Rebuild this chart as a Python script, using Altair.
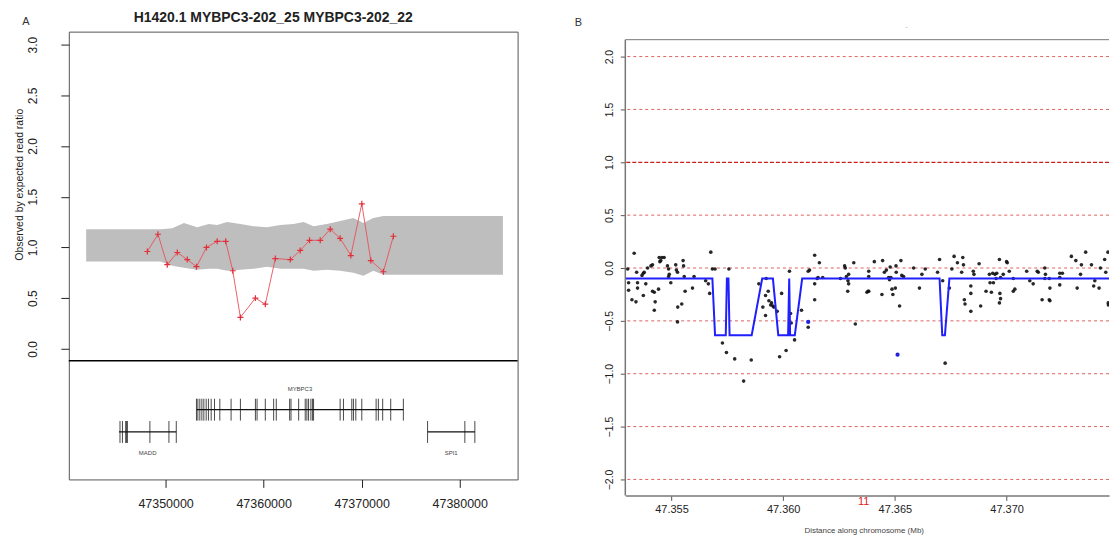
import altair as alt
import pandas as pd

FONT = "Liberation Sans"
INK = "#222222"

# ---------------- Panel A: observed / expected read ratio ----------------
ratio_pos = [47348140, 47349220, 47350170, 47351190, 47352210, 47353150, 47354170,
             47355260, 47356130, 47356850, 47357630, 47359160, 47360170, 47361190,
             47362720, 47363730, 47364680, 47365770, 47366790, 47367800, 47368890,
             47370010, 47370930, 47372210, 47373230]
ratio_val = [0.96, 1.13, 0.83, 0.95, 0.88, 0.81, 1.00, 1.06, 1.06, 0.77, 0.31,
             0.50, 0.44, 0.89, 0.88, 0.97, 1.07, 1.07, 1.18, 1.09, 0.92, 1.43,
             0.87, 0.76, 1.11]

# expected range (grey band)
band_pos = [47341900, 47349490, 47350680, 47351870, 47353220, 47354410, 47355260,
            47356270, 47357630, 47358980, 47360340, 47361700, 47363050, 47364070,
            47365090, 47366440, 47367800, 47369150, 47370170, 47371190, 47372200,
            47384400]
band_hi = [1.18, 1.18, 1.19, 1.24, 1.20, 1.23, 1.22, 1.25, 1.23, 1.21, 1.20,
           1.22, 1.23, 1.25, 1.21, 1.23, 1.26, 1.29, 1.24, 1.29, 1.31, 1.31]
band_lo = [0.86, 0.86, 0.82, 0.80, 0.78, 0.79, 0.79, 0.77, 0.78, 0.79, 0.81,
           0.79, 0.79, 0.79, 0.77, 0.78, 0.77, 0.75, 0.72, 0.77, 0.73, 0.73]

# gene models
mybpc3_exons = [47353150, 47353290, 47353490, 47353700, 47353900, 47354140, 47354370,
                47354650, 47354990, 47355530, 47356680, 47357630, 47359160, 47359330,
                47360170, 47361020, 47361290, 47362650, 47362790, 47363570, 47364240,
                47364410, 47364580, 47364820, 47364990, 47365090, 47367800, 47368140,
                47368990, 47369160, 47369400, 47370010, 47371470, 47371700, 47372140,
                47372960, 47374250]
madd_exons = [47345350, 47345600, 47345930, 47346030, 47346100, 47348400, 47350340, 47351090]
spi1_exons = [47376720, 47380520, 47381540]
gene_names = ["MYBPC3", "MADD", "SPI1"]
gene_start = [47353150, 47345250, 47376720]
gene_end = [47374250, 47351090, 47381540]
gene_row = [-0.60, -0.82, -0.82]        # track rows under the ratio plot
gene_label_y = [-0.40, -1.03, -1.03]
exon_half = 0.108
track_sep = -0.118

A_X_DOMAIN = [47340130, 47385900]
A_Y_DOMAIN = [-1.288, 3.128]

ratio_df = pd.DataFrame({"pos": ratio_pos, "val": ratio_val})
band_df = pd.DataFrame({"pos": band_pos, "val": band_hi, "val2": band_lo})
exon_rows = []
for name, exons, row in zip(gene_names, [mybpc3_exons, madd_exons, spi1_exons], gene_row):
    for e in exons:
        exon_rows.append({"pos": e, "val": row - exon_half, "val2": row + exon_half})
exon_df = pd.DataFrame(exon_rows)
gene_df = pd.DataFrame({
    "name": gene_names, "pos": gene_start, "pos2": gene_end, "val": gene_row,
    "label_y": gene_label_y,
    "mid": [(s + e) / 2 for s, e in zip(gene_start, gene_end)],
})

axis_ax = alt.Axis(values=[47350000, 47360000, 47370000, 47380000], format="d",
                   tickSize=8, labelPadding=10, labelFontSize=12.5, labelColor=INK,
                   tickColor=INK, domain=False, grid=False, title=None)
axis_ay = alt.Axis(values=[0, 0.5, 1.0, 1.5, 2.0, 2.5, 3.0], format=".1f",
                   labelAngle=270, labelAlign="center", labelBaseline="bottom",
                   labelPadding=21, tickSize=8, labelFontSize=12, labelColor=INK,
                   tickColor=INK, domain=False, grid=False,
                   title="Observed by expected read ratio", titleFontSize=10.5,
                   titleFontWeight="normal", titleColor=INK, titleAngle=270,
                   titleX=-49, titleY=153, titleAlign="center", titleBaseline="middle")


def ax(field):
    return alt.X(field, type="quantitative",
                 scale=alt.Scale(domain=A_X_DOMAIN, nice=False, zero=False), axis=axis_ax)


def ay(field):
    return alt.Y(field, type="quantitative",
                 scale=alt.Scale(domain=A_Y_DOMAIN, nice=False, zero=False), axis=axis_ay)


one = pd.DataFrame({"k": [0]})

band = alt.Chart(band_df).mark_area(color="#bebebe", opacity=1).encode(
    x=ax("pos"), y=ay("val"), y2="val2")
ratio_line = alt.Chart(ratio_df).mark_line(color="#e8505a", strokeWidth=0.9).encode(
    x=ax("pos"), y=ay("val"))
ratio_pts = alt.Chart(ratio_df).mark_point(
    shape="M-1,0H1M0,-1V1", filled=False, color="#e0303a", strokeWidth=1.2,
    size=36, opacity=1).encode(x=ax("pos"), y=ay("val"))
separator = alt.Chart(one).mark_rule(color="black", strokeWidth=1.6).encode(
    y=alt.datum(track_sep))
gene_lines = alt.Chart(gene_df).mark_rule(color="#111", strokeWidth=1.2).encode(
    x=ax("pos"), x2="pos2", y=ay("val"))
exon_ticks = alt.Chart(exon_df).mark_rule(color="#111", strokeWidth=0.9, opacity=0.85).encode(
    x=ax("pos"), y=ay("val"), y2="val2")
gene_text = alt.Chart(gene_df).mark_text(fontSize=6, color="#444").encode(
    x=ax("mid"), y=ay("label_y"), text="name:N")
title_a = alt.Chart(one).mark_text(
    text="H1420.1 MYBPC3-202_25 MYBPC3-202_22", fontSize=14, fontWeight="bold",
    color=INK, baseline="middle").encode(x=alt.value(205), y=alt.value(-14))
tag_a = alt.Chart(one).mark_text(text="A", fontSize=11, color="#333").encode(
    x=alt.value(-43), y=alt.value(-10))

panel_a = alt.layer(
    band, ratio_line, ratio_pts, separator, gene_lines, exon_ticks, gene_text,
    title_a, tag_a
).properties(width=450, height=449,
             view=alt.ViewBackground(stroke="#555555", strokeWidth=1))

# ---------------- Panel B: log ratio along chromosome 11 ----------------
# probe positions in kb past 47,350,000 and their log ratios
probe_kb_left = [
    3.33, 3.04, 3.08, 3.08, 3.23, 3.41, 3.44, 3.48, 3.48, 3.68,
    3.74, 3.78, 3.74, 3.85, 3.93, 4.08, 4.15, 4.15, 4.23, 4.27,
    4.23, 4.42, 4.45, 4.48, 4.57, 4.67, 4.52, 4.82, 4.87, 4.90,
    4.87, 4.97, 5.19, 5.22, 5.27, 5.28, 5.27, 5.46, 5.52, 5.54,
    5.57, 5.61, 5.94, 6.01, 6.53, 6.65, 6.71, 6.76, 6.83, 6.95,
    7.57, 7.28, 7.46, 7.83, 8.57, 8.23, 8.91, 9.09, 9.21, 9.24,
    9.21, 9.33, 9.36, 9.44, 9.48, 9.54, 9.58, 9.73, 9.93, 9.84,
    10.13, 10.28, 10.36, 10.33, 10.51, 10.82, 11.12, 11.18, 11.41, 11.62,
    11.41, 11.41, 11.52, 11.56, 11.77, 12.56, 12.75, 12.78, 12.83, 12.90,
    12.93, 12.93, 12.89, 13.16, 13.23, 13.80, 11.12]
probe_lr_left = [
    0.14, -0.01, -0.14, -0.21, -0.30, -0.32, -0.04, -0.14, -0.19, -0.07,
    -0.05, -0.04, -0.26, -0.15, 0.00, 0.02, 0.03, -0.22, -0.23, -0.32,
    -0.40, -0.20, 0.10, 0.06, 0.10, 0.10, 0.07, 0.02, -0.01, -0.06,
    -0.08, -0.14, 0.03, -0.02, -0.04, -0.37, -0.51, -0.34, 0.07, 0.02,
    -0.08, -0.22, -0.19, -0.08, -0.12, -0.15, -0.24, 0.15, -0.01, -0.01,
    -0.01, -0.71, -0.80, -0.86, -0.87, -1.07, -0.15, -0.37, -0.45, -0.10,
    -0.26, -0.22, -0.31, -0.35, -0.33, -0.36, -0.37, -0.41, -0.24, -0.84,
    -0.78, -0.03, -0.52, -0.43, -0.68, -0.40, -0.03, -0.02, 0.12, 0.05,
    -0.15, -0.30, -0.10, -0.09, -0.09, -0.10, 0.02, 0.00, -0.08, -0.12,
    -0.15, -0.06, -0.22, 0.05, -0.53, -0.22, -0.56]
probe_kb_right = [
    13.83, 13.83, 13.75, 13.83, 14.08, 14.42, 14.45, 14.53, 14.62, 14.72,
    14.76, 14.79, 14.82, 14.87, 14.91, 15.02, 15.05, 15.06, 15.21, 15.27,
    15.31, 15.39, 15.84, 16.10, 16.21, 16.36, 16.91, 17.00, 17.14, 17.44,
    17.55, 17.65, 17.80, 17.99, 18.04, 18.07, 18.11, 18.14, 18.40, 18.40,
    18.40, 18.51, 18.54, 18.77, 18.84, 19.08, 19.23, 19.26, 19.32, 19.38,
    19.41, 19.48, 19.53, 19.56, 19.68, 19.68, 19.70, 19.73, 19.73, 19.85,
    20.00, 20.03, 20.12, 20.30, 20.30, 20.37, 20.90, 21.04, 21.19, 21.37,
    21.42, 21.59, 21.71, 21.74, 21.71, 21.91, 21.94, 21.91, 21.94, 22.38,
    22.38, 22.38, 22.50, 22.90, 23.10, 23.16, 23.31, 23.35, 23.54, 23.80,
    23.90, 23.95, 24.14, 24.20, 24.39, 24.44, 24.54, 24.55, 24.56, 17.25]
probe_lr_right = [
    -0.03, -0.08, -0.23, -0.22, 0.06, -0.25, 0.07, -0.04, -0.02, -0.09,
    -0.11, 0.01, -0.09, -0.20, -0.25, -0.19, 0.02, -0.04, -0.36, 0.07,
    -0.07, -0.08, 0.00, -0.19, -0.06, -0.01, -0.04, 0.08, -0.12, -0.19,
    -0.01, 0.11, 0.05, -0.04, 0.10, 0.03, -0.30, -0.34, -0.17, -0.24,
    -0.41, -0.03, -0.06, 0.04, -0.36, -0.22, -0.06, -0.14, -0.23, -0.05,
    -0.14, -0.06, -0.10, -0.05, 0.08, -0.33, -0.24, -0.29, -0.09, -0.06,
    0.06, 0.05, -0.03, -0.10, -0.22, -0.20, -0.03, -0.12, -0.15, -0.03,
    -0.04, -0.30, 0.00, -0.06, -0.10, -0.10, -0.19, -0.30, -0.31, -0.05,
    -0.09, -0.16, -0.05, 0.11, 0.07, -0.19, -0.06, 0.03, 0.15, 0.03,
    -0.17, -0.12, -0.19, 0.00, 0.08, -0.04, 0.15, -0.33, -0.35, -0.90]
flag_kb = [11.12, 15.12]
flag_lr = [-0.51, -0.82]

# segmented copy-number call
seg_kb = [2.93, 6.83, 6.95, 7.43, 7.48, 7.55, 7.60, 8.59, 9.06, 9.54, 9.78,
          10.22, 10.27, 10.31, 10.52, 10.85, 17.00, 17.12, 17.24, 17.44, 24.60]
seg_lr = [-0.10, -0.10, -0.635, -0.635, -0.10, -0.10, -0.635, -0.635, -0.10, -0.10,
          -0.635, -0.635, -0.10, -0.635, -0.635, -0.10, -0.10, -0.635, -0.635, -0.10, -0.10]

ref_levels = [2.0, 1.5, 0.5, 0.0, -0.5, -1.0, -1.5, -2.0]
ref_strong = [1.0]

BASE_MB = 47.35
B_X_DOMAIN = [47.352933, 47.374585]
B_Y_DOMAIN = [-2.151, 2.236]
B_FRAME_TOP = 2.16


def to_mb(kbs):
    return [BASE_MB + k / 1000 for k in kbs]


probe_df = pd.DataFrame({"mb": to_mb(probe_kb_left + probe_kb_right),
                         "lr": probe_lr_left + probe_lr_right})
flag_df = pd.DataFrame({"mb": to_mb(flag_kb), "lr": flag_lr})
seg_df = pd.DataFrame({"mb": to_mb(seg_kb), "lr": seg_lr})
ref_df = pd.DataFrame({"lr": ref_levels})
strong_df = pd.DataFrame({"lr": ref_strong})

axis_bx = alt.Axis(values=[47.355, 47.36, 47.365, 47.37], format=".3f", tickSize=5,
                   labelPadding=3, labelFontSize=11, labelColor=INK, tickColor="#555",
                   domain=True, domainColor="#777", domainWidth=1.5, grid=False,
                   title="Distance along chromosome (Mb)", titleFontSize=8,
                   titleFontWeight="normal", titleColor="#444", titleX=239, titleY=35,
                   titleAlign="center", titleBaseline="middle")
axis_by = alt.Axis(values=[-2, -1.5, -1, -0.5, 0, 0.5, 1, 1.5, 2], format=".1f",
                   labelAngle=270, labelAlign="center", labelBaseline="bottom",
                   labelPadding=6, tickSize=5, labelFontSize=10.5, labelColor=INK,
                   tickColor="#555", domain=False, grid=False, title=None)


def bx(field):
    return alt.X(field, type="quantitative",
                 scale=alt.Scale(domain=B_X_DOMAIN, nice=False, zero=False), axis=axis_bx)


def by(field):
    return alt.Y(field, type="quantitative",
                 scale=alt.Scale(domain=B_Y_DOMAIN, nice=False, zero=False), axis=axis_by)


ref_lines = alt.Chart(ref_df).mark_rule(color="#e06060", strokeDash=[3, 3],
                                        strokeWidth=1).encode(y=by("lr"))
ref_one = alt.Chart(strong_df).mark_rule(color="#c81e1e", strokeDash=[4, 2],
                                         strokeWidth=1.3).encode(y=by("lr"))
probes = alt.Chart(probe_df).mark_circle(color="#111111", size=13, opacity=0.9,
                                         clip=True).encode(x=bx("mb"), y=by("lr"))
flags = alt.Chart(flag_df).mark_circle(color="#2222dd", size=18, opacity=1).encode(
    x=bx("mb"), y=by("lr"))
segments = alt.Chart(seg_df).mark_line(color="#1f1fff", strokeWidth=2,
                                       clip=True).encode(x=bx("mb"), y=by("lr"))
frame_top = alt.Chart(one).mark_rule(color="#777", strokeWidth=1).encode(
    y=alt.datum(B_FRAME_TOP))
frame_left = alt.Chart(one).mark_rule(color="#777", strokeWidth=1.5).encode(
    x=alt.datum(B_X_DOMAIN[0]), y=alt.datum(B_Y_DOMAIN[0]), y2=alt.datum(B_FRAME_TOP))
chrom_label = alt.Chart(one).mark_text(text="11", fontSize=11, color="#e02020",
                                       baseline="middle").encode(
    x=alt.value(239), y=alt.value(472))
tag_b = alt.Chart(one).mark_text(text="B", fontSize=11, color="#333").encode(
    x=alt.value(-47), y=alt.value(-9))
mark_b = alt.Chart(one).mark_text(text="-", fontSize=8, color="#bbbbbb").encode(
    x=alt.value(282), y=alt.value(-5))

panel_b = alt.layer(
    ref_lines, ref_one, probes, segments, flags, frame_top, frame_left,
    chrom_label, tag_b, mark_b
).properties(width=485, height=465,
             view=alt.ViewBackground(stroke="transparent"))

chart = alt.hconcat(panel_a, panel_b, spacing=108, bounds="flush").properties(
    padding={"left": 14, "top": 9, "right": 0, "bottom": 0}
).configure(font=FONT).configure_axis(labelFont=FONT, titleFont=FONT)

chart.save("out.html", embed_options={"renderer": "svg", "actions": False})
